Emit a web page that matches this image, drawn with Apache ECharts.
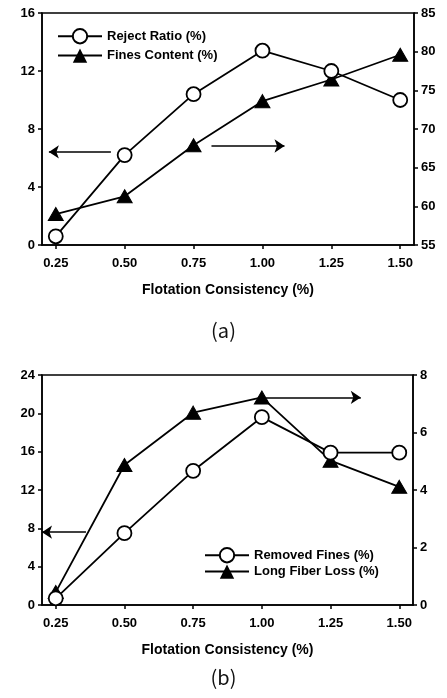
<!DOCTYPE html>
<html>
<head>
<meta charset="utf-8">
<script src="https://cdn.jsdelivr.net/npm/echarts@6/dist/echarts.min.js"></script>
<style>
    html, body { margin: 0; padding: 0; background: #fff; }
    #chart { width: 447px; height: 698px; }
</style>
</head>
<body>
<div id="chart"></div>
<script>
    // x positions (flotation consistency, %)
    const consistency = [0.25, 0.50, 0.75, 1.00, 1.25, 1.50];
    const xTicks = [0.25, 0.50, 0.75, 1.00, 1.25, 1.50];

    // (a)
    const rejectRatio = [0.6, 6.2, 10.4, 13.4, 12.0, 10.0];      // left axis
    const finesContent = [59.0, 61.3, 67.9, 73.6, 76.4, 79.6];   // right axis

    // (b)
    const removedFines = [0.7, 7.5, 14.0, 19.6, 15.9, 15.9];     // left axis
    const longFiberLoss = [0.45, 4.87, 6.69, 7.22, 5.02, 4.11];  // right axis

    const font = 'Liberation Sans, Arial, sans-serif';

    function pairs(ys) {
        return consistency.map((x, i) => [x, ys[i]]);
    }

    function xAxis(gridIndex) {
        return {
            type: 'value',
            gridIndex: gridIndex,
            min: 0.2,
            max: 1.55,
            name: 'Flotation Consistency (%)',
            nameLocation: 'middle',
            nameGap: 38,
            nameTextStyle: { color: '#000', fontFamily: font, fontWeight: 'bold', fontSize: 14 },
            axisLine: { lineStyle: { color: '#000', width: 1.5 } },
            axisTick: { show: true, length: 4, customValues: xTicks, lineStyle: { color: '#000', width: 1.5 } },
            axisLabel: {
                customValues: xTicks,
                color: '#000', fontFamily: font, fontWeight: 'bold', fontSize: 13, margin: 12,
                formatter: v => v.toFixed(2)
            },
            splitLine: { show: false }
        };
    }

    function yAxis(gridIndex, pos, min, max, interval) {
        return {
            type: 'value',
            gridIndex: gridIndex,
            position: pos,
            min: min,
            max: max,
            interval: interval,
            axisLine: { show: true, lineStyle: { color: '#000', width: 1.5 } },
            axisTick: { show: true, length: 4, lineStyle: { color: '#000', width: 1.5 } },
            axisLabel: { color: '#000', fontFamily: font, fontWeight: 'bold', fontSize: 13, margin: 7 },
            splitLine: { show: false }
        };
    }

    const lineStyle = { color: '#000', width: 1.8 };
    const arrowStyle = { color: '#000', width: 1.5, type: 'solid' };

    function arrow(x1, x2, y) {
        return {
            silent: true,
            animation: false,
            symbol: ['none', 'arrow'],
            symbolSize: 10,
            label: { show: false },
            lineStyle: arrowStyle,
            itemStyle: { color: '#000' },
            data: [[{ coord: [x1, y] }, { coord: [x2, y] }]]
        };
    }

    function circleSeries(name, data, xi, yi, mark) {
        return {
            name: name, type: 'line', xAxisIndex: xi, yAxisIndex: yi,
            data: pairs(data),
            symbol: 'circle', symbolSize: 14, showAllSymbol: true,
            itemStyle: { color: '#fff', borderColor: '#000', borderWidth: 1.8 },
            lineStyle: lineStyle,
            z: 3,
            markLine: mark
        };
    }

    function triSeries(name, data, xi, yi, mark) {
        return {
            name: name, type: 'line', xAxisIndex: xi, yAxisIndex: yi,
            data: pairs(data),
            symbol: 'triangle', symbolSize: [15, 13], showAllSymbol: true,
            itemStyle: { color: '#000', borderColor: '#000' },
            lineStyle: lineStyle,
            z: 2,
            markLine: mark
        };
    }

    const legendText = { color: '#000', fontFamily: font, fontWeight: 'bold', fontSize: 13 };

    const option = {
        animation: false,
        backgroundColor: '#fff',
        grid: [
            { left: 42, right: 33, top: 13, height: 232, show: true, borderColor: '#000', borderWidth: 1.5, backgroundColor: 'transparent' },
            { left: 42, right: 34, top: 375, height: 230, show: true, borderColor: '#000', borderWidth: 1.5, backgroundColor: 'transparent' }
        ],
        legend: [
            {
                orient: 'vertical', left: 52, top: 23, itemWidth: 44, itemHeight: 18, itemGap: 4,
                data: ['Reject Ratio (%)', 'Fines Content (%)'], textStyle: legendText,
                selectedMode: false
            },
            {
                orient: 'vertical', left: 199, top: 542, itemWidth: 44, itemHeight: 18, itemGap: 1,
                data: ['Removed Fines (%)', 'Long Fiber Loss (%)'], textStyle: legendText,
                selectedMode: false
            }
        ],
        title: [
            { text: '(a)', left: 'center', top: 315, textStyle: { fontFamily: 'Noto Sans CJK KR', fontWeight: 'normal', fontSize: 20, color: '#111' } },
            { text: '(b)', left: 'center', top: 662, textStyle: { fontFamily: 'Noto Sans CJK KR', fontWeight: 'normal', fontSize: 20, color: '#111' } }
        ],
        xAxis: [xAxis(0), xAxis(1)],
        yAxis: [
            yAxis(0, 'left', 0, 16, 4),
            yAxis(0, 'right', 55, 85, 5),
            yAxis(1, 'left', 0, 24, 4),
            yAxis(1, 'right', 0, 8, 2)
        ],
        series: [
            circleSeries('Reject Ratio (%)', rejectRatio, 0, 0, arrow(0.45, 0.225, 6.42)),
            triSeries('Fines Content (%)', finesContent, 0, 1, arrow(0.815, 1.08, 67.8)),
            circleSeries('Removed Fines (%)', removedFines, 1, 2, arrow(0.36, 0.2, 7.6)),
            triSeries('Long Fiber Loss (%)', longFiberLoss, 1, 3, arrow(1.015, 1.36, 7.22))
        ]
    };

    const myChart = echarts.init(document.getElementById('chart'));
    myChart.setOption(option);
</script>
</body>
</html>
